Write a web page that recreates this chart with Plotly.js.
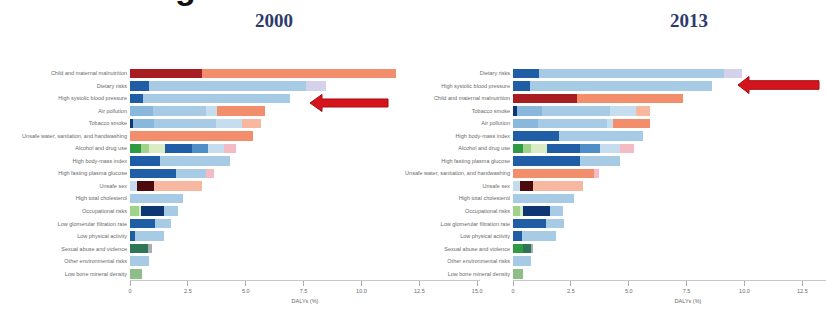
<!DOCTYPE html>
<html>
<head>
<meta charset="utf-8">
<script src="https://cdn.plot.ly/plotly-3.0.1.min.js"></script>
<style>
html,body{margin:0;padding:0;overflow:hidden;background:#fff;width:826px;height:329px;}
#chart{width:870px;height:329px;}
</style>
</head>
<body>
<div id="chart"></div>
<script>
// ---------- DATA ----------
const risks2000 = ["Child and maternal malnutrition","Dietary risks","High systolic blood pressure","Air pollution","Tobacco smoke","Unsafe water, sanitation, and handwashing","Alcohol and drug use","High body-mass index","High fasting plasma glucose","Unsafe sex","High total cholesterol","Occupational risks","Low glomerular filtration rate","Low physical activity","Sexual abuse and violence","Other environmental risks","Low bone mineral density"];
const risks2013 = ["Dietary risks","High systolic blood pressure","Child and maternal malnutrition","Tobacco smoke","Air pollution","High body-mass index","Alcohol and drug use","High fasting plasma glucose","Unsafe water, sanitation, and handwashing","Unsafe sex","High total cholesterol","Occupational risks","Low glomerular filtration rate","Low physical activity","Sexual abuse and violence","Other environmental risks","Low bone mineral density"];

const causeNames = ["Transport injuries","Unintentional injuries","Self-harm and violence","Musculoskeletal","Intentional injuries","Other","Diarrhoea, LRI and other infections","HIV/AIDS and tuberculosis","Neoplasms","Cardiovascular diseases","Chronic respiratory diseases","Cirrhosis","Diabetes and kidney diseases","Other non-communicable","Mental and substance use","Neonatal and nutritional","Other communicable","Neurological","Other injuries"];

// values (% of DALYs) per cause, one entry per risk row
const c00 = [0,0,0,0,0,0,0.47,0,0,0,0,0,0,0,0,0,0];
const c01 = [0,0,0,0,0,0,0.33,0,0,0,0,0.40,0,0,0,0,0];
const c02 = [0,0,0,0,0,0,0.72,0,0,0,0,0.07,0,0,0,0,0];
const c03 = [0,0,0,0,0,0,0,0,0,0,0,0,0,0,0,0,0.52];
const c04 = [0,0,0,0,0,0,0,0,0,0,0,0,0,0,0.76,0,0];
const c05 = [0,0,0,0,0,0,0,0,0,0.32,0,0,0,0,0,0,0];
const c06 = [3.10,0,0,0,0,0,0,0,0,0,0,0,0,0,0,0,0];
const c07 = [0,0,0,0,0,0,0,0,0,0.72,0,0,0,0,0,0,0];
const c08 = [0,0,0,0,0.12,0,0,0,0,0,0,1.02,0,0,0,0,0];
const c09 = [0,0.80,0.55,0,0,0,1.14,1.30,1.97,0,0,0,1.08,0.22,0,0,0];
const c10 = [0,0,0,1.00,0.92,0,0,0,0,0,0,0,0,0,0,0,0];
const c11 = [0,0,0,0,0,0,0.69,0,0,0,0,0,0,0,0,0,0];
const c12 = [0,6.80,6.35,2.30,2.66,0,0,3.00,1.33,0,2.28,0.58,0.68,1.25,0,0.80,0];
const c13 = [0,0,0,0.46,1.15,0,0.72,0,0,0,0,0,0,0,0,0,0];
const c14 = [0,0.86,0,0,0,0,0,0,0,0,0,0,0,0,0,0,0];
const c15 = [8.40,0,0,2.06,0,5.30,0,0,0,0,0,0,0,0,0,0,0];
const c16 = [0,0,0,0,0.79,0,0,0,0,2.06,0,0,0,0,0,0,0];
const c17 = [0,0,0,0,0,0,0.50,0,0.33,0,0,0,0,0,0,0,0];
const c18 = [0,0,0,0,0,0,0,0,0,0,0,0,0,0,0.19,0,0];

const d00 = [0,0,0,0,0,0,0.42,0,0,0,0,0,0,0,0.45,0,0];
const d01 = [0,0,0,0,0,0,0.35,0,0,0,0,0.30,0,0,0,0,0];
const d02 = [0,0,0,0,0,0,0.72,0,0,0,0,0.15,0,0,0,0,0];
const d03 = [0,0,0,0,0,0,0,0,0,0,0,0,0,0,0,0,0.42];
const d04 = [0,0,0,0,0,0,0,0,0,0,0,0,0,0,0.32,0,0];
const d05 = [0,0,0,0,0,0,0,0,0,0.30,0,0,0,0,0,0,0];
const d06 = [0,0,2.78,0,0,0,0,0,0,0,0,0,0,0,0,0,0];
const d07 = [0,0,0,0,0,0,0,0,0,0.58,0,0,0,0,0,0,0];
const d08 = [0,0,0,0.19,0,0,0,0,0,0,0,1.15,0,0,0,0,0];
const d09 = [1.12,0.72,0,0,0,2.00,1.41,2.88,0,0,0,0,1.43,0.38,0,0,0];
const d10 = [0,0,0,1.05,1.10,0,0,0,0,0,0,0,0,0,0,0,0];
const d11 = [0,0,0,0,0,0,0.86,0,0,0,0,0,0,0,0,0,0];
const d12 = [7.99,7.88,0,2.95,2.95,3.60,0,1.73,0,0,2.62,0.55,0.76,1.48,0,0.78,0];
const d13 = [0,0,0,1.12,0.29,0,0.86,0,0,0,0,0,0,0,0,0,0];
const d14 = [0.79,0,0,0,0,0,0,0,0,0,0,0,0,0,0,0,0];
const d15 = [0,0,4.56,0,1.56,0,0,0,3.52,0,0,0,0,0,0,0,0];
const d16 = [0,0,0,0.60,0,0,0,0,0,2.16,0,0,0,0,0,0,0];
const d17 = [0,0,0,0,0,0,0.60,0,0.20,0,0,0,0,0,0,0,0];
const d18 = [0,0,0,0,0,0,0,0,0,0,0,0,0,0,0.10,0,0];

const tickVals2000 = [0,2.5,5,7.5,10,12.5,15];
const tickText2000 = ["0","2.5","5.0","7.5","10.0","12.5","15.0"];
const tickVals2013 = [0,2.5,5,7.5,10,12.5];
const tickText2013 = ["0","2.5","5.0","7.5","10.0","12.5"];

// ---------- STYLE ----------
const causeColors = ["#2f9a44","#9fd28a","#d9ecc3","#8dbd88","#2f7656","#c4dbee","#a81d22","#4c0a0c","#0e3574","#1f5ea7","#8ab8dc","#4f8fc7","#a8cbe5","#c6ddef","#d4d1ea","#f28e6c","#f8b7a0","#f3bcc4","#a9adb3"];
const vals2000 = [c00,c01,c02,c03,c04,c05,c06,c07,c08,c09,c10,c11,c12,c13,c14,c15,c16,c17,c18];
const vals2013 = [d00,d01,d02,d03,d04,d05,d06,d07,d08,d09,d10,d11,d12,d13,d14,d15,d16,d17,d18];

const W = 870, H = 329, MT = 67, MB = 49;
const px2x = p => p / W;
const px2y = p => (H - MB - p) / (H - MT - MB);

const traces = [];
causeNames.forEach((nm, i) => {
  traces.push({type:'bar', orientation:'h', name:nm, x:vals2000[i], y:risks2000,
    xaxis:'x', yaxis:'y', marker:{color:causeColors[i], line:{width:0}}, showlegend:false, hoverinfo:'x+y'});
  traces.push({type:'bar', orientation:'h', name:nm, x:vals2013[i], y:risks2013,
    xaxis:'x2', yaxis:'y2', marker:{color:causeColors[i], line:{width:0}}, showlegend:false, hoverinfo:'x+y'});
});

const small = {family:'Liberation Sans, Arial, sans-serif', size:5.5, color:'#6a6a6a'};
const xr = [0, 15.12];
function xax(dom, tv, tt){
  return {domain:dom, range:xr, tickvals:tv, ticktext:tt, ticks:'outside', ticklen:5,
    tickcolor:'#aaaaaa', showline:true, linecolor:'#c8c8c8', linewidth:1, showgrid:false, zeroline:false,
    tickfont:small, title:{text:'DALYs (%)', font:small, standoff:6}, fixedrange:true};
}
function yax(cats, anchor){
  return {type:'category', categoryarray:cats, range:[16.5,-0.5], anchor:anchor, showgrid:false,
    zeroline:false, showline:false, ticks:'', tickfont:small, ticklabelstandoff:2, fixedrange:true};
}

function arrowPath(tipX, tailX, cy, headLen, headH, shaftH){
  const pts = [[tipX,cy],[tipX+headLen,cy-headH],[tipX+headLen,cy-shaftH],[tailX,cy-shaftH],
               [tailX,cy+shaftH],[tipX+headLen,cy+shaftH],[tipX+headLen,cy+headH]];
  return 'M ' + pts.map(p => px2x(p[0]).toFixed(5) + ' ' + px2y(p[1]).toFixed(5)).join(' L ') + ' Z';
}

const layout = {
  width:W, height:H, margin:{l:0,r:0,t:MT,b:MB,pad:0},
  paper_bgcolor:'#ffffff', plot_bgcolor:'#ffffff',
  barmode:'stack', bargap:0.24, showlegend:false,
  xaxis:Object.assign(xax([130/W, 480/W], tickVals2000, tickText2000), {anchor:'y'}),
  yaxis:yax(risks2000, 'x'),
  xaxis2:Object.assign(xax([513/W, 863/W], tickVals2013, tickText2013), {anchor:'y2'}),
  yaxis2:yax(risks2013, 'x2'),
  annotations:[
    {text:'<b>2000</b>', xref:'paper', yref:'paper', x:px2x(274), y:px2y(20.5), xanchor:'center', yanchor:'middle',
     showarrow:false, font:{family:'Liberation Serif, Times New Roman, serif', size:19, color:'#2d3b6b'}},
    {text:'<b>2013</b>', xref:'paper', yref:'paper', x:px2x(689), y:px2y(20.5), xanchor:'center', yanchor:'middle',
     showarrow:false, font:{family:'Liberation Serif, Times New Roman, serif', size:19, color:'#2d3b6b'}},
    {text:'<b>g</b>', xref:'paper', yref:'paper', x:px2x(185), y:px2y(8), xanchor:'center', yanchor:'bottom',
     showarrow:false, font:{family:'Liberation Sans, Arial, sans-serif', size:34, color:'#111111'}}
  ],
  shapes:[
    {type:'path', xref:'paper', yref:'paper', path:arrowPath(310, 388, 103, 12, 8.5, 4),
     fillcolor:'#d5141c', line:{color:'#a30d13', width:1}},
    {type:'path', xref:'paper', yref:'paper', path:arrowPath(738, 819, 85, 11, 8.5, 4.3),
     fillcolor:'#d5141c', line:{color:'#a30d13', width:1}}
  ]
};

Plotly.newPlot('chart', traces, layout, {displayModeBar:false, staticPlot:true});
</script>
</body>
</html>
